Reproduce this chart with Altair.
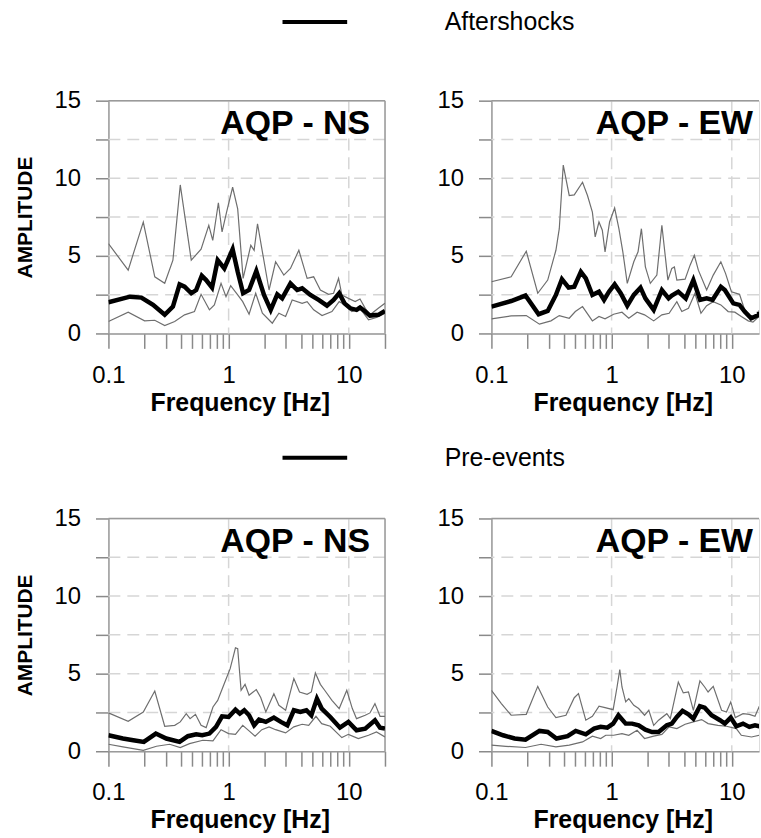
import altair as alt
import pandas as pd

FONT = "Liberation Sans"
PANEL_W = 278          # width of a full 0.1-20 Hz panel
PANEL_W_RIGHT = 269    # right-hand panels run off the page edge
PANEL_H = 234
F_MIN, F_MAX = 0.1, 20
F_MAX_RIGHT = F_MIN * (F_MAX / F_MIN) ** (PANEL_W_RIGHT / PANEL_W)

# Spectral ratio curves: (frequency [Hz], amplitude) pairs.
# Each panel has an upper bound, a mean curve and a lower bound.

# --- Aftershocks, NS component ---
AFTER_NS_UPPER = [(0.1, 5.79), (0.146, 4.08), (0.195, 7.18), (0.243, 3.65), (0.294, 3.23), (0.344, 4.72),
                  (0.396, 9.57), (0.489, 4.72), (0.59, 5.43), (0.684, 6.97), (0.738, 6.0), (0.822, 8.42),
                  (0.882, 6.54), (0.962, 7.82), (1.08, 9.42), (1.19, 8.03), (1.32, 3.55), (1.53, 5.68),
                  (1.63, 5.36), (1.74, 7.07), (1.91, 5.26), (2.17, 2.8), (2.46, 4.62), (2.88, 3.76),
                  (3.27, 4.19), (3.84, 5.36), (4.5, 3.55), (5.1, 3.65), (5.8, 2.8), (6.79, 2.52),
                  (7.47, 2.59), (8.22, 3.55), (8.75, 2.48), (9.93, 2.26), (11.3, 2.05), (12.4, 2.22),
                  (13.7, 1.62), (15.0, 1.2), (17.6, 1.62), (20, 1.94)]
AFTER_NS_MEAN = [(0.1, 2.01), (0.151, 2.37), (0.188, 2.31), (0.235, 1.84), (0.294, 1.2), (0.344, 1.73),
                 (0.391, 3.16), (0.43, 3.01), (0.489, 2.59), (0.537, 2.8), (0.598, 3.72), (0.65, 3.44),
                 (0.728, 2.95), (0.811, 4.72), (0.921, 4.19), (1.08, 5.43), (1.19, 3.97), (1.32, 2.59),
                 (1.48, 2.8), (1.7, 4.02), (1.97, 2.48), (2.24, 1.52), (2.54, 2.52), (2.79, 2.26),
                 (3.27, 3.23), (3.72, 2.8), (4.09, 2.91), (4.79, 2.48), (5.61, 2.16), (6.58, 1.79),
                 (7.47, 2.16), (8.32, 2.59), (9.21, 1.94), (10.3, 1.62), (11.6, 1.52), (12.4, 1.67),
                 (13.7, 1.41), (15.0, 1.15), (17.6, 1.2), (20, 1.45)]
AFTER_NS_LOWER = [(0.1, 0.77), (0.146, 1.37), (0.2, 0.81), (0.243, 0.85), (0.294, 0.51), (0.356, 0.77),
                  (0.43, 1.2), (0.52, 1.41), (0.59, 2.52), (0.692, 1.52), (0.761, 1.84), (0.865, 3.23),
                  (0.951, 2.37), (1.04, 3.08), (1.19, 2.48), (1.31, 2.05), (1.48, 1.24), (1.68, 2.59),
                  (1.91, 1.3), (2.31, 0.66), (2.62, 1.3), (2.98, 1.09), (3.38, 2.16), (4.09, 1.94),
                  (4.5, 2.05), (5.1, 1.52), (5.99, 1.15), (7.24, 1.41), (8.32, 2.05), (9.33, 1.84),
                  (10.6, 1.41), (12.4, 1.62), (14.6, 0.88), (17.0, 1.03), (20, 1.3)]

# --- Aftershocks, EW component ---
AFTER_EW_UPPER = [(0.1, 3.33), (0.146, 3.65), (0.195, 5.3), (0.243, 2.59), (0.294, 3.44), (0.344, 5.36),
                  (0.367, 6.75), (0.396, 10.85), (0.444, 8.89), (0.489, 8.93), (0.573, 9.74), (0.63, 8.89),
                  (0.692, 7.82), (0.73, 6.22), (0.785, 7.18), (0.837, 6.65), (0.882, 5.26), (0.962, 7.18),
                  (1.06, 8.08), (1.15, 6.75), (1.24, 5.26), (1.35, 3.23), (1.53, 4.62), (1.66, 5.26),
                  (1.77, 6.75), (1.91, 4.29), (2.1, 3.23), (2.38, 3.76), (2.62, 6.97), (2.94, 3.44),
                  (3.17, 4.19), (3.33, 4.29), (3.49, 3.44), (4.09, 3.5), (4.5, 4.4), (4.88, 5.04),
                  (5.27, 4.08), (6.18, 2.8), (7.01, 3.76), (8.11, 4.62), (8.87, 3.87), (9.93, 2.69),
                  (11.6, 2.52), (12.8, 1.52), (14.5, 1.05), (17.4, 1.3), (20, 1.5)]
AFTER_EW_MEAN = [(0.1, 1.73), (0.146, 2.09), (0.192, 2.44), (0.247, 1.24), (0.294, 1.45), (0.344, 2.48),
                 (0.386, 3.5), (0.439, 2.95), (0.489, 3.01), (0.555, 3.97), (0.61, 3.55), (0.692, 2.48),
                 (0.785, 2.69), (0.865, 2.16), (0.951, 2.69), (1.06, 3.16), (1.19, 2.59), (1.35, 1.79),
                 (1.53, 2.48), (1.74, 2.95), (1.91, 2.26), (2.24, 1.52), (2.62, 2.8), (2.98, 2.26),
                 (3.17, 2.44), (3.59, 2.69), (4.14, 2.26), (4.79, 3.44), (5.45, 2.16), (6.18, 2.26),
                 (6.92, 2.16), (8.11, 3.01), (8.75, 2.8), (10.3, 1.94), (11.6, 1.84), (12.8, 1.41),
                 (14.5, 0.98), (17.0, 1.2), (20, 1.4)]
AFTER_EW_LOWER = [(0.1, 0.94), (0.146, 1.13), (0.195, 1.15), (0.251, 0.6), (0.313, 0.81), (0.367, 1.15),
                  (0.444, 0.98), (0.499, 1.41), (0.573, 1.73), (0.692, 0.81), (0.785, 1.09), (0.882, 0.94),
                  (1.04, 1.24), (1.22, 1.37), (1.39, 0.98), (1.63, 1.37), (1.88, 1.2), (2.24, 0.81),
                  (2.62, 1.2), (3.01, 1.3), (3.49, 2.05), (3.84, 1.41), (4.36, 1.62), (4.94, 2.59),
                  (5.54, 1.3), (6.18, 1.79), (7.01, 2.05), (8.11, 1.84), (9.33, 1.41), (10.6, 1.37),
                  (12.0, 1.09), (13.7, 0.81), (15.0, 0.73), (17.4, 1.09), (20, 1.2)]

# --- Pre-events, NS component ---
PRE_NS_UPPER = [(0.1, 2.47), (0.146, 1.93), (0.195, 2.53), (0.243, 3.88), (0.294, 1.61), (0.356, 1.67),
                (0.396, 1.89), (0.444, 2.42), (0.478, 2.1), (0.53, 2.38), (0.59, 1.67), (0.65, 1.52),
                (0.741, 2.85), (0.811, 3.28), (0.921, 4.36), (1.03, 5.32), (1.09, 6.07), (1.14, 6.67),
                (1.19, 6.61), (1.27, 3.93), (1.37, 4.31), (1.48, 3.61), (1.6, 3.82), (1.7, 3.97),
                (1.85, 3.46), (2.04, 2.53), (2.38, 3.71), (2.62, 2.96), (2.98, 2.64), (3.49, 4.68),
                (3.89, 3.82), (4.5, 3.67), (4.88, 3.82), (5.27, 5.04), (5.8, 4.31), (6.3, 3.93),
                (7.24, 3.28), (8.32, 2.75), (9.62, 3.93), (10.7, 2.75), (11.6, 2.1), (13.7, 2.32),
                (15.0, 2.47), (16.5, 3.07), (18.2, 2.25), (20, 2.25)]
PRE_NS_MEAN = [(0.1, 1.03), (0.132, 0.82), (0.161, 0.71), (0.197, 0.6), (0.248, 1.14), (0.303, 0.82),
               (0.391, 0.6), (0.458, 0.97), (0.537, 1.09), (0.603, 1.03), (0.692, 1.14), (0.786, 1.57),
               (0.882, 2.25), (1.0, 2.21), (1.14, 2.68), (1.24, 2.42), (1.35, 2.64), (1.48, 2.32),
               (1.63, 1.67), (1.79, 2.04), (2.04, 1.89), (2.38, 2.17), (2.72, 1.89), (3.08, 1.67),
               (3.49, 2.64), (3.95, 2.53), (4.44, 2.64), (4.88, 2.32), (5.43, 3.39), (5.95, 2.75),
               (7.01, 2.21), (8.44, 1.52), (9.93, 1.89), (11.6, 1.35), (13.7, 1.46), (16.5, 2.0),
               (18.2, 1.52), (20, 1.46)]
PRE_NS_LOWER = [(0.1, 0.45), (0.132, 0.28), (0.195, 0.06), (0.251, 0.32), (0.323, 0.45), (0.396, 0.24),
                (0.473, 0.49), (0.61, 0.71), (0.741, 0.67), (0.865, 1.39), (1.0, 1.14), (1.14, 1.09),
                (1.31, 1.67), (1.48, 1.31), (1.66, 0.97), (1.89, 1.39), (2.17, 1.57), (2.46, 1.39),
                (2.98, 1.18), (3.49, 1.57), (4.09, 1.74), (4.64, 1.67), (5.33, 2.25), (5.95, 1.78),
                (7.01, 1.61), (8.75, 0.88), (9.93, 1.09), (12.0, 0.82), (14.6, 1.03), (17.0, 1.24),
                (20, 0.92)]

# --- Pre-events, EW component ---
PRE_EW_UPPER = [(0.1, 3.93), (0.121, 3.07), (0.146, 2.32), (0.195, 2.38), (0.243, 4.18), (0.294, 2.85),
                (0.344, 2.17), (0.417, 2.32), (0.489, 3.45), (0.53, 3.71), (0.61, 2.0), (0.692, 2.25),
                (0.786, 2.9), (0.882, 2.81), (1.03, 2.68), (1.11, 4.14), (1.17, 5.26), (1.22, 4.14),
                (1.31, 3.18), (1.39, 3.39), (1.53, 2.96), (1.68, 2.75), (1.88, 2.32), (2.04, 2.64),
                (2.24, 1.67), (2.46, 2.0), (2.88, 2.42), (3.08, 2.1), (3.59, 4.46), (3.95, 3.76),
                (4.36, 3.82), (4.79, 2.64), (5.43, 4.53), (5.95, 4.14), (6.35, 3.82), (7.01, 4.18),
                (8.22, 2.64), (9.03, 2.53), (9.8, 3.18), (10.7, 2.17), (12.4, 2.42), (14.0, 2.38),
                (15.6, 2.25), (17.4, 2.85), (20, 2.9)]
PRE_EW_MEAN = [(0.1, 1.31), (0.125, 1.03), (0.156, 0.82), (0.192, 0.75), (0.251, 1.31), (0.294, 1.24),
               (0.348, 0.82), (0.43, 0.97), (0.503, 1.31), (0.61, 1.09), (0.714, 1.46), (0.811, 1.57),
               (0.921, 1.52), (1.03, 1.78), (1.14, 2.32), (1.31, 1.78), (1.48, 1.78), (1.68, 1.67),
               (1.91, 1.39), (2.17, 1.24), (2.46, 1.24), (2.88, 1.67), (3.17, 1.78), (3.49, 2.21),
               (3.89, 2.6), (4.36, 2.38), (4.79, 2.1), (5.43, 2.9), (5.95, 2.81), (6.79, 2.32),
               (7.98, 2.0), (8.75, 1.78), (9.8, 2.17), (10.9, 1.61), (12.4, 1.78), (14.0, 1.57),
               (15.6, 1.67), (17.4, 1.61), (20, 1.65)]
PRE_EW_LOWER = [(0.1, 0.39), (0.132, 0.32), (0.192, 0.24), (0.259, 0.45), (0.344, 0.28), (0.444, 0.39),
                (0.573, 0.6), (0.692, 0.97), (0.811, 0.82), (0.894, 1.03), (1.04, 1.03), (1.22, 1.14),
                (1.39, 1.03), (1.63, 1.35), (1.88, 0.82), (2.24, 0.97), (2.62, 1.09), (3.01, 1.57),
                (3.49, 1.46), (4.09, 1.74), (4.79, 1.89), (5.61, 2.04), (6.35, 1.78), (7.66, 1.67),
                (9.03, 1.61), (10.9, 1.46), (12.0, 1.03), (14.6, 0.92), (17.4, 1.03), (20, 1.05)]

# Axis ticks, dashed reference lines and frame edges
FREQ_TICKS = [0.1, 0.2, 0.3, 0.4, 0.5, 0.6, 0.7, 0.8, 0.9, 1, 2, 3, 4, 5, 6, 7, 8, 9, 10, 20]
AMP_TICKS = [0, 2.5, 5, 7.5, 10, 12.5, 15]
FREQ_GRID = [1, 10]
AMP_GRID = [2.5, 5, 7.5, 10, 12.5]
AMP_TOP = [15]
FREQ_RIGHT = [20]

AXIS_GRAY = "#9a9a9a"
TICK_GRAY = "#8a8a8a"
GRID_GRAY = "#d6d6d6"


def x_enc(f_max, clamp):
    ticks = [f for f in FREQ_TICKS if f <= f_max]
    return alt.X(
        "freq:Q",
        scale=alt.Scale(type="log", domain=[F_MIN, f_max], clamp=clamp),
        axis=alt.Axis(
            values=ticks,
            labelExpr="datum.value == 0.1 ? '0.1' : datum.value == 1 ? '1' : datum.value == 10 ? '10' : ''",
            labelOverlap=False, labelFlush=False, grid=False,
            tickSize=15, tickWidth=1.5, tickColor=TICK_GRAY,
            domainColor=AXIS_GRAY, domainWidth=1.5,
            labelFontSize=24, labelFont=FONT, labelColor="black", labelPadding=15,
            title="Frequency [Hz]", titleFont=FONT, titleFontSize=25, titleFontWeight="bold",
            titleColor="black", titlePadding=3, titleX=132,
        ),
    )


def y_enc(title):
    return alt.Y(
        "amp:Q",
        scale=alt.Scale(domain=[0, 15], nice=False),
        axis=alt.Axis(
            values=AMP_TICKS,
            labelExpr="datum.value % 5 == 0 ? datum.label : ''",
            labelOverlap=False, labelFlush=False, grid=False,
            tickSize=13, tickWidth=1.5, tickColor=TICK_GRAY,
            domainColor=AXIS_GRAY, domainWidth=1.5,
            labelFontSize=24, labelFont=FONT, labelColor="black", labelPadding=15,
            title=title, titleFont=FONT, titleFontSize=21, titleFontWeight="bold",
            titleColor="black", titlePadding=19,
        ),
    )


def frame(pairs, band):
    return pd.DataFrame({"freq": [p[0] for p in pairs], "amp": [p[1] for p in pairs], "band": band})


def panel(upper, mean, lower, label, ytitle, right_side, legend_label=None, legend_y=0):
    f_max = F_MAX_RIGHT if right_side else F_MAX
    width = PANEL_W_RIGHT if right_side else PANEL_W
    X = x_enc(f_max, right_side)
    Y = y_enc(ytitle)
    dashed = dict(color=GRID_GRAY, strokeWidth=1.5, strokeDash=[12, 7])
    layers = [
        alt.Chart(pd.DataFrame({"freq": FREQ_GRID})).mark_rule(**dashed).encode(x=X),
        alt.Chart(pd.DataFrame({"amp": AMP_GRID})).mark_rule(**dashed).encode(y=Y),
        alt.Chart(pd.DataFrame({"amp": AMP_TOP})).mark_rule(color=AXIS_GRAY, strokeWidth=1.5).encode(y=Y),
    ]
    if not right_side:
        layers.append(
            alt.Chart(pd.DataFrame({"freq": FREQ_RIGHT})).mark_rule(color=AXIS_GRAY, strokeWidth=1.5).encode(x=X)
        )
    bounds = pd.concat([frame(upper, "upper"), frame(lower, "lower")])
    layers.append(
        alt.Chart(bounds).mark_line(color="#6e6e6e", strokeWidth=1.2, clip=True).encode(x=X, y=Y, detail="band:N")
    )
    layers.append(
        alt.Chart(frame(mean, "mean")).mark_line(color="black", strokeWidth=4.5, clip=True).encode(x=X, y=Y)
    )
    layers.append(
        alt.Chart(pd.DataFrame({"name": [label]})).mark_text(
            font=FONT, fontSize=34, fontWeight="bold", align="right", baseline="alphabetic", color="black"
        ).encode(x=alt.value(PANEL_W - 15), y=alt.value(34), text="name:N")
    )
    if legend_label:
        key = alt.Chart(pd.DataFrame({"label": [legend_label]}))
        layers.append(
            key.mark_rule(color="black", strokeWidth=4).encode(
                x=alt.value(175), x2=alt.value(240), y=alt.value(legend_y)
            )
        )
        layers.append(
            key.mark_text(font=FONT, fontSize=25, align="left", baseline="middle", color="black").encode(
                x=alt.value(338), y=alt.value(legend_y), text="label:N"
            )
        )
    return alt.layer(*layers).properties(width=width, height=PANEL_H)


chart = alt.concat(
    panel(AFTER_NS_UPPER, AFTER_NS_MEAN, AFTER_NS_LOWER, "AQP - NS", "AMPLITUDE", False, "Aftershocks", -79),
    panel(AFTER_EW_UPPER, AFTER_EW_MEAN, AFTER_EW_LOWER, "AQP - EW", "", True),
    panel(PRE_NS_UPPER, PRE_NS_MEAN, PRE_NS_LOWER, "AQP - NS", "AMPLITUDE", False, "Pre-events", -61),
    panel(PRE_EW_UPPER, PRE_EW_MEAN, PRE_EW_LOWER, "AQP - EW", "", True),
    columns=2,
    spacing={"row": 186, "column": 107},
    bounds="flush",
).properties(
    padding={"left": 13, "top": 7, "right": 0, "bottom": 0}
).configure_view(
    strokeOpacity=0
).configure(background="white")

chart.save("out.html", embed_options={"renderer": "svg", "actions": False})
